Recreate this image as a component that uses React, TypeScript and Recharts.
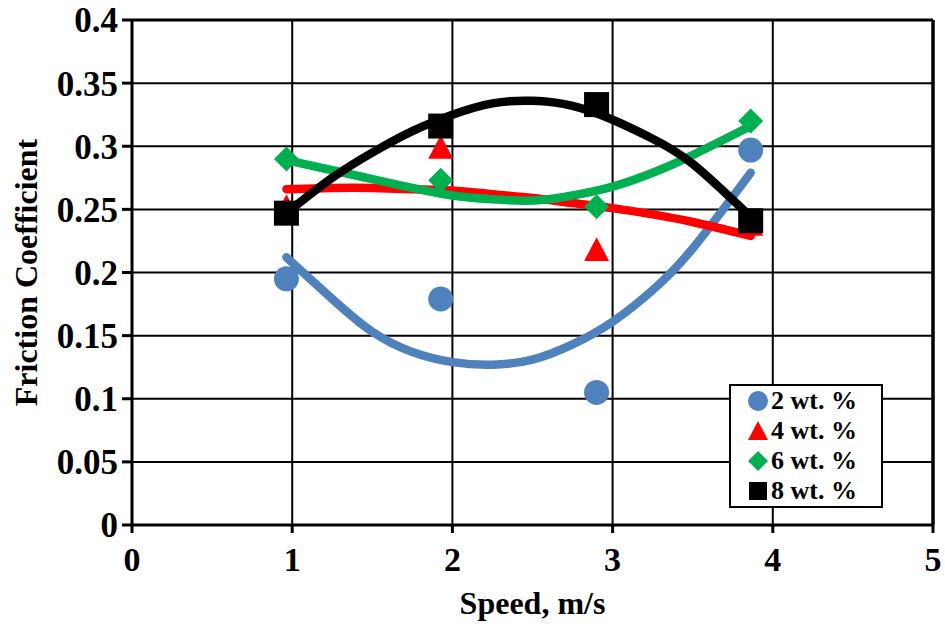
import React from 'react';
import {
  ComposedChart,
  Scatter,
  Line,
  XAxis,
  YAxis,
  CartesianGrid,
  ReferenceLine,
  Legend,
} from 'recharts';

// measured points (speed m/s, friction coefficient)
const speeds = [0.964, 1.927, 2.9, 3.862];
const wt2 = [0.195, 0.179, 0.105, 0.297];
const wt4 = [0.252, 0.299, 0.218, 0.238];
const wt6 = [0.29, 0.273, 0.252, 0.32];
const wt8 = [0.247, 0.316, 0.333, 0.241];

// trendline curves
const trendX = [0.964, 1.25, 1.5, 1.75, 2, 2.25, 2.5, 2.75, 3, 3.25, 3.5, 3.862];
const trend2 = [0.212, 0.179, 0.153, 0.137, 0.129, 0.127, 0.131, 0.143, 0.161, 0.186, 0.219, 0.279];
const trend4 = [0.266, 0.267, 0.267, 0.266, 0.265, 0.262, 0.259, 0.255, 0.251, 0.246, 0.24, 0.229];
const trend6 = [0.289, 0.281, 0.274, 0.267, 0.261, 0.258, 0.257, 0.261, 0.268, 0.279, 0.293, 0.316];
const trend8 = [0.247, 0.275, 0.295, 0.312, 0.325, 0.334, 0.336, 0.332, 0.321, 0.306, 0.286, 0.244];

const seriesNames = ['2 wt. %', '4 wt. %', '6 wt. %', '8 wt. %'];
const xTicks = [0, 1, 2, 3, 4, 5];
const yTicks = [0, 0.05, 0.1, 0.15, 0.2, 0.25, 0.3, 0.35, 0.4];

const colors = ['#4F81BD', '#FF0000', '#00B050', '#000000'];
const shapes = ['circle', 'triangle', 'diamond', 'square'];

const toPoints = (xs: number[], ys: number[]) => xs.map((x, i) => ({ x, y: ys[i] }));
const pointSets = [wt2, wt4, wt6, wt8].map((ys) => toPoints(speeds, ys));
const trendSets = [trend2, trend4, trend6, trend8].map((ys) => toPoints(trendX, ys));

const font = '"Liberation Serif", "Times New Roman", serif';

function Marker({ kind, cx, cy, fill, size }: any) {
  const r = size / 2;
  if (kind === 'circle') return <circle cx={cx} cy={cy} r={r} fill={fill} />;
  if (kind === 'square') return <rect x={cx - r} y={cy - r} width={size} height={size} fill={fill} />;
  if (kind === 'diamond')
    return <polygon points={`${cx},${cy - r} ${cx + r},${cy} ${cx},${cy + r} ${cx - r},${cy}`} fill={fill} />;
  return <polygon points={`${cx},${cy - r} ${cx + r},${cy + r * 0.9} ${cx - r},${cy + r * 0.9}`} fill={fill} />;
}

function LegendBox() {
  return (
    <div
      style={{
        border: '2px solid #000',
        background: '#fff',
        width: 150,
        fontFamily: font,
        fontWeight: 'bold',
        fontSize: 26,
        lineHeight: '30px',
        color: '#000',
      }}
    >
      {seriesNames.map((name, i) => (
        <div key={name} style={{ display: 'flex', alignItems: 'center', paddingLeft: 16 }}>
          <svg width={22} height={22} style={{ marginRight: 2 }}>
            <Marker kind={shapes[i]} cx={11} cy={11} fill={colors[i]} size={i === 3 ? 18 : 20} />
          </svg>
          <span>{name}</span>
        </div>
      ))}
    </div>
  );
}

export default function App() {
  return (
    <div style={{ position: 'absolute', left: 0, top: 0, background: '#fff' }}>
      <ComposedChart width={945} height={628} margin={{ top: 20, right: 12, left: 0, bottom: 0 }}>
        <CartesianGrid stroke="#000" strokeWidth={2} />
        <XAxis
          type="number"
          dataKey="x"
          domain={[0, 5]}
          ticks={xTicks}
          allowDataOverflow
          height={103}
          stroke="#000"
          strokeWidth={3}
          tickSize={8}
          tickMargin={14}
          tick={{ fill: '#000', fontSize: 34, fontWeight: 'bold', fontFamily: font }}
          label={{
            value: 'Speed, m/s',
            position: 'insideBottom',
            offset: 14,
            style: { fill: '#000', fontSize: 32, fontWeight: 'bold', fontFamily: font },
          }}
        />
        <YAxis
          type="number"
          dataKey="y"
          domain={[0, 0.4]}
          ticks={yTicks}
          allowDataOverflow
          width={132}
          stroke="#000"
          strokeWidth={3}
          tickSize={10}
          tickMargin={4}
          tick={{ fill: '#000', fontSize: 35, fontWeight: 'bold', fontFamily: font }}
          label={{
            value: 'Friction Coefficient',
            angle: -90,
            position: 'insideLeft',
            offset: 26,
            style: { textAnchor: 'middle', fill: '#000', fontSize: 32, fontWeight: 'bold', fontFamily: font },
          }}
        />
        <ReferenceLine x={5} stroke="#000" strokeWidth={3.5} />
        <ReferenceLine y={0.4} stroke="#000" strokeWidth={3} />
        {pointSets.map((pts, i) => (
          <Scatter
            key={'p' + i}
            name={seriesNames[i]}
            data={pts}
            fill={colors[i]}
            isAnimationActive={false}
            shape={(props: any) => (
              <Marker kind={shapes[i]} cx={props.cx} cy={props.cy} fill={colors[i]} size={25} />
            )}
          />
        ))}
        {trendSets.map((pts, i) => (
          <Line
            key={'t' + i}
            data={pts}
            dataKey="y"
            type="natural"
            stroke={colors[i]}
            strokeWidth={8.5}
            strokeLinecap="round"
            dot={false}
            activeDot={false}
            legendType="none"
            isAnimationActive={false}
          />
        ))}
        <Legend
          layout="vertical"
          align="center"
          verticalAlign="middle"
          content={() => <LegendBox />}
          wrapperStyle={{ left: 729, top: 384, width: 154, height: 124 }}
        />
      </ComposedChart>
    </div>
  );
}
